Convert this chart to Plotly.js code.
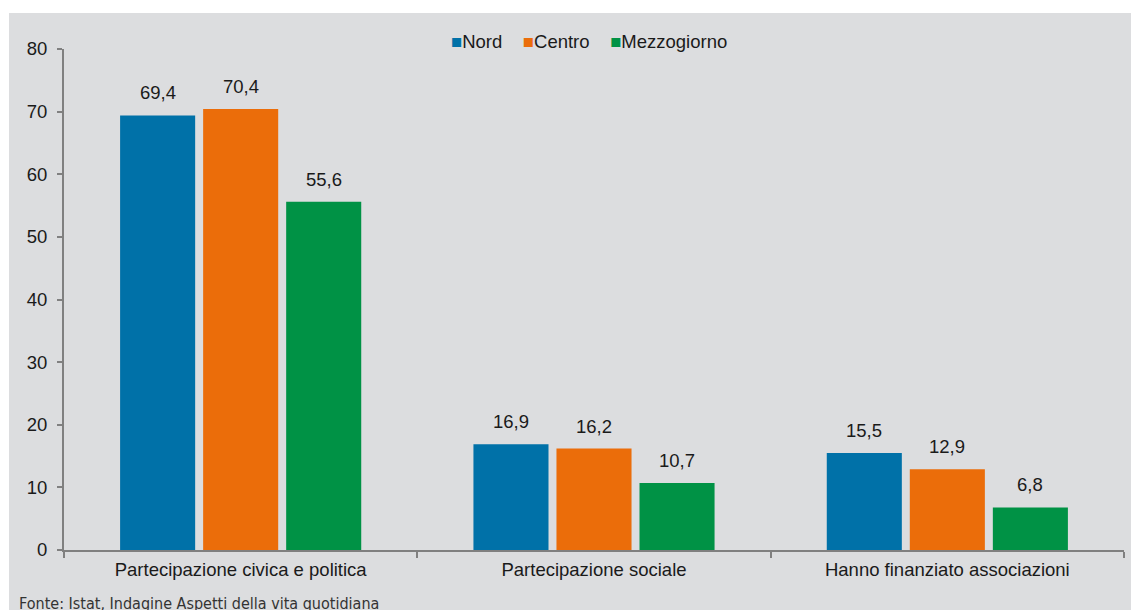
<!DOCTYPE html>
<html><head><meta charset="utf-8">
<script src="https://cdn.plot.ly/plotly-3.0.1.min.js"></script>
<style>
html,body{margin:0;padding:0;background:#ffffff;width:1131px;height:610px;overflow:hidden;}
#chart{position:absolute;left:9px;top:13px;width:1122px;height:597px;}
</style></head>
<body><div id="chart"></div>
<script>
const categories = ["Partecipazione civica e politica", "Partecipazione sociale", "Hanno finanziato associazioni"];
const nord = [69.4, 16.9, 15.5];
const centro = [70.4, 16.2, 12.9];
const mezzogiorno = [55.6, 10.7, 6.8];
const seriesNames = ["Nord", "Centro", "Mezzogiorno"];
const seriesColors = ["#0071A8", "#EB6D0A", "#009245"];
const yTicks = [0, 10, 20, 30, 40, 50, 60, 70, 80];
const source = "Fonte: Istat, Indagine Aspetti della vita quotidiana";

const FONT = 'Liberation Sans, Arial, sans-serif';
const FS = 18.5;
const W = 1122, H = 597;
const M = {l: 55, r: 7, t: 36, b: 60};
const BARGAP = 0.295, BARGROUPGAP = 0.096;
const allSeries = [nord, centro, mezzogiorno];

const traces = allSeries.map((vals, i) => ({
  type: 'bar', name: seriesNames[i], x: categories, y: vals,
  marker: {color: seriesColors[i]}, hoverinfo: 'skip', showlegend: false
}));

// data labels, placed at each bar's value and centred on the bar's slot
const plotW = W - M.l - M.r;
const slot = (1 - BARGAP) * plotW / categories.length / allSeries.length;
const annotations = [];
allSeries.forEach((vals, i) => {
  vals.forEach((v, j) => {
    annotations.push({x: categories[j], y: v, xref: 'x', yref: 'y',
      xshift: (i - (allSeries.length - 1) / 2) * slot, yshift: 10,
      text: v.toFixed(1).replace('.', ','), showarrow: false, yanchor: 'bottom',
      font: {family: FONT, size: FS, color: '#1a1a1a'}});
  });
});
// legend
const legendText = seriesNames.map((n, i) =>
  "<span style='color:" + seriesColors[i] + "'>■</span>" + n).join("\u00a0\u00a0\u00a0\u00a0");
annotations.push({text: legendText, xref: 'paper', yref: 'paper', x: 0.495, y: 1, yshift: 8,
  xanchor: 'center', yanchor: 'middle', showarrow: false,
  font: {family: FONT, size: FS, color: '#1a1a1a'}});
// source
annotations.push({text: source, xref: 'paper', yref: 'paper', x: 0, xshift: -47, y: 0, yshift: -42,
  xanchor: 'left', yanchor: 'top', showarrow: false,
  font: {family: 'Liberation Sans Narrow, DejaVu Sans Condensed, sans-serif', size: 16, color: '#333333'}});

const layout = {
  width: W, height: H,
  paper_bgcolor: '#DCDDDF', plot_bgcolor: '#DCDDDF',
  margin: M,
  font: {family: FONT, size: FS, color: '#1a1a1a'},
  barmode: 'group', bargap: BARGAP, bargroupgap: BARGROUPGAP,
  showlegend: false,
  xaxis: {showline: true, linecolor: '#808080', linewidth: 2, ticks: 'outside', tickson: 'boundaries',
    ticklen: 6, tickcolor: '#808080', tickwidth: 2, showgrid: false, zeroline: false,
    tickfont: {size: FS, color: '#1a1a1a'}, ticklabelstandoff: 2},
  yaxis: {range: [0, 80], tickvals: yTicks, showline: true, linecolor: '#808080', linewidth: 2,
    ticks: 'outside', ticklen: 5, tickcolor: '#808080', tickwidth: 2, showgrid: false, zeroline: false,
    tickfont: {size: FS, color: '#1a1a1a'}, ticklabelstandoff: 6},
  annotations: annotations
};
Plotly.newPlot('chart', traces, layout, {displayModeBar: false, staticPlot: true});
</script></body></html>
